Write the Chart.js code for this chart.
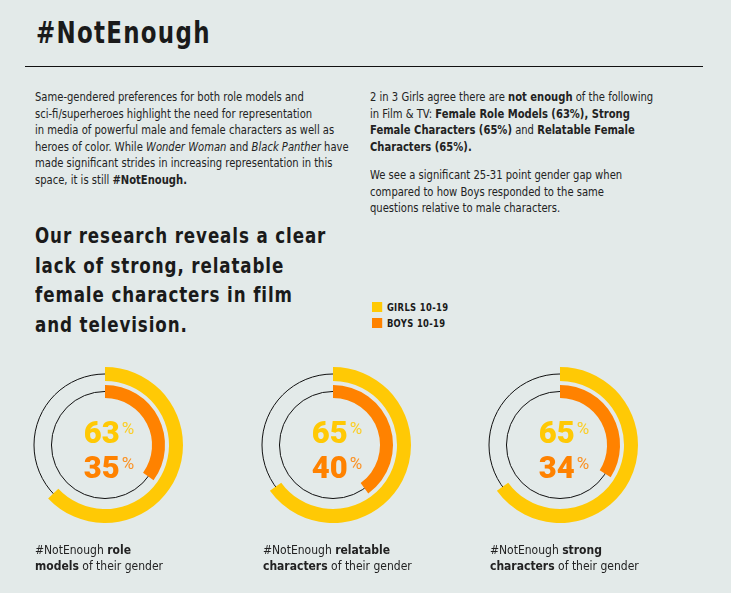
<!DOCTYPE html>
<html>
<head>
<meta charset="utf-8">
<script src="https://cdn.jsdelivr.net/npm/chart.js@4.4.1/dist/chart.umd.min.js"></script>
<style>
  html, body { margin: 0; padding: 0; }
  body {
    width: 731px; height: 593px; overflow: hidden; position: relative;
    background: #e3eae9; color: #1a1a1a;
    font-family: "DejaVu Sans Condensed", "Liberation Sans", sans-serif;
  }
  .abs { position: absolute; white-space: nowrap; transform-origin: 0 0; }
  h1 { margin: 0; left: 36px; top: 13px; font-size: 30px; line-height: 40px; letter-spacing: 1.5px; font-weight: bold; transform: scaleX(0.85); }
  .rule { left: 25px; top: 66px; width: 678px; height: 0; border-top: 1.3px solid #111; }
  .para { font-size: 12.5px; line-height: 16.6px; color: #222; transform: scaleX(0.89); }
  .heading { left: 35px; top: 222px; font-size: 21px; line-height: 29.5px; font-weight: bold; letter-spacing: 1px; transform: scaleX(0.885); }
  .legend { left: 372px; top: 300px; font-size: 11px; font-weight: bold; letter-spacing: 0.4px; line-height: 16px; transform: scaleX(0.85); }
  .legend span.sw { display: inline-block; width: 11.5px; height: 10px; margin-right: 6px; vertical-align: -1px; }
  .donut { width: 156px; height: 156px; top: 367px; }
  .center { width: 156px; padding-left: 8px; box-sizing: border-box; text-align: center; font-family: Roboto, sans-serif; font-weight: 900; }
  .center div { font-size: 31px; line-height: 35px; height: 35px; }
  .center span.pc { font-size: 17px; font-weight: normal; position: relative; top: -9px; margin-left: 2px; opacity: 0.85; }
  .label { top: 542px; font-size: 12.5px; line-height: 16.3px; color: #222; transform: scaleX(0.96); }
</style>
</head>
<body>
<h1 class="abs">#NotEnough</h1>
<div class="abs rule"></div>

<div class="abs para" style="left:35px; top:89px;">
Same-gendered preferences for both role models and<br>
sci-fi/superheroes highlight the need for representation<br>
in media of powerful male and female characters as well as<br>
heroes of color. While <i>Wonder Woman</i> and <i>Black Panther</i> have<br>
made significant strides in increasing representation in this<br>
space, it is still <b>#NotEnough.</b>
</div>

<div class="abs para" style="left:370px; top:89px;">
2 in 3 Girls agree there are <b>not enough</b> of the following<br>
in Film &amp; TV: <b>Female Role Models (63%), Strong</b><br>
<b>Female Characters (65%)</b> and <b>Relatable Female</b><br>
<b>Characters (65%).</b>
</div>
<div class="abs para" style="left:370px; top:167px;">
We see a significant 25-31 point gender gap when<br>
compared to how Boys responded to the same<br>
questions relative to male characters.
</div>

<div class="abs heading">
Our research reveals a clear<br>
lack of strong, relatable<br>
female characters in film<br>
and television.
</div>

<div class="abs legend" id="legend"></div>

<div id="charts"></div>

<script>
// values
const groups = ["GIRLS 10-19", "BOYS 10-19"];
const girls = [63, 65, 65];
const boys = [35, 40, 34];
const labelStart = ["#NotEnough <b>role</b>", "#NotEnough <b>relatable</b>", "#NotEnough <b>strong</b>"];
const labelEnd = ["<b>models</b> of their gender", "<b>characters</b> of their gender", "<b>characters</b> of their gender"];

const yellow = "#ffc905";
const orange = "#ff8200";
const centersX = [105, 333, 560];

document.getElementById('legend').innerHTML =
  '<div><span class="sw" style="background:' + yellow + '"></span>' + groups[0] + '</div>' +
  '<div><span class="sw" style="background:' + orange + '"></span>' + groups[1] + '</div>';

// thin black circle along the middle of each coloured ring
const trackPlugin = {
  id: 'track',
  beforeDatasetsDraw(chart) {
    const ctx = chart.ctx;
    [0, 2].forEach(function (i) {
      const arc = chart.getDatasetMeta(i).data[0];
      if (!arc) return;
      const r = (arc.innerRadius + arc.outerRadius) / 2;
      ctx.save();
      ctx.beginPath();
      ctx.arc(arc.x, arc.y, r, 0, Math.PI * 2);
      ctx.strokeStyle = '#111';
      ctx.lineWidth = 1;
      ctx.stroke();
      ctx.restore();
    });
  }
};

const holder = document.getElementById('charts');
girls.forEach(function (g, i) {
  const b = boys[i];
  const left = centersX[i] - 78;

  let box = document.createElement('div');
  box.className = 'abs donut';
  box.style.left = left + 'px';
  let cv = document.createElement('canvas');
  box.appendChild(cv);
  holder.appendChild(box);

  let center = document.createElement('div');
  center.className = 'abs center';
  center.style.left = left + 'px';
  center.style.top = '415px';
  center.innerHTML = '<div style="color:' + yellow + '">' + g + '<span class="pc">%</span></div>' +
                     '<div style="color:' + orange + '">' + b + '<span class="pc">%</span></div>';
  holder.appendChild(center);

  let label = document.createElement('div');
  label.className = 'abs label';
  label.style.left = (centersX[i] - 70) + 'px';
  label.innerHTML = labelStart[i] + '<br>' + labelEnd[i];
  holder.appendChild(label);

  new Chart(cv, {
    type: 'doughnut',
    data: {
      labels: ['share', 'rest'],
      datasets: [
        { label: groups[0], data: [g, 100 - g], backgroundColor: [yellow, 'transparent'], weight: 14 },
        { label: 'gap', data: [100], backgroundColor: ['transparent'], weight: 4 },
        { label: groups[1], data: [b, 100 - b], backgroundColor: [orange, 'transparent'], weight: 13 }
      ]
    },
    options: {
      responsive: true,
      maintainAspectRatio: false,
      animation: false,
      cutout: '60.3%',
      borderWidth: 0,
      hoverOffset: 0,
      layout: { padding: 0 },
      plugins: { legend: { display: false }, tooltip: { enabled: false } },
      events: []
    },
    plugins: [trackPlugin]
  });
});
</script>
</body>
</html>
